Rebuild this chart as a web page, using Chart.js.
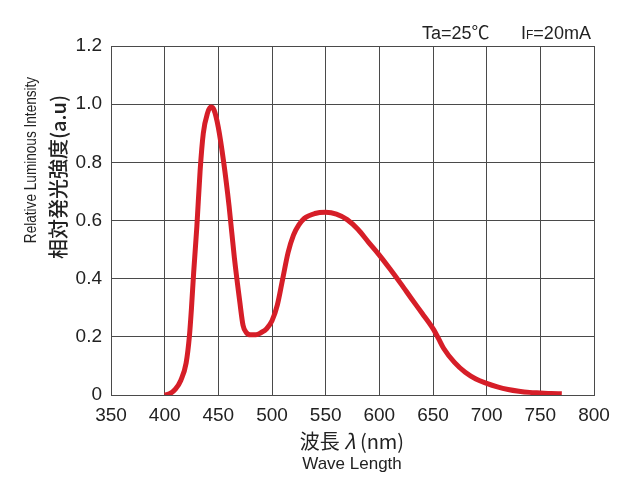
<!DOCTYPE html>
<html>
<head>
<meta charset="utf-8">
<script src="https://cdn.jsdelivr.net/npm/chart.js@4"></script>
<style>
  html, body { margin: 0; padding: 0; background: #fff; }
  #wrap { position: relative; width: 640px; height: 497px; }
  .lbl { position: absolute; color: #222; font-family: "Liberation Sans", Arial, "Noto Sans CJK JP", sans-serif; white-space: nowrap; transform: translate(-50%, -50%); }
  .cond { top: 23px; font-size: 18px; line-height: 20px; height: 20px; transform: none; }
  .cond small { font-size: 12px; }
  #cond1 { left: 422px; }
  #cond2 { left: 521px; }
  #yen { left: 31px; top: 160px; transform: translate(-50%, -50%) rotate(-90deg) scaleX(0.85); font-size: 16px; }
  #yja { left: 57px; top: 177px; transform: translate(-50%, -50%) rotate(-90deg); font-size: 20px; font-family: "Noto Sans CJK JP", sans-serif; font-weight: 500; }
  #xtitle1 { left: 352px; top: 440px; font-size: 20px; font-family: "Noto Sans CJK JP", sans-serif; }
  #xtitle2 { left: 352px; top: 464px; font-size: 17px; }
</style>
</head>
<body>
<div id="wrap">
  <canvas id="myChart" width="640" height="497"></canvas>
  <div class="lbl cond" id="cond1">Ta=25℃</div>
  <div class="lbl cond" id="cond2">I<small>F</small>=20mA</div>
  <div class="lbl" id="yen">Relative Luminous Intensity</div>
  <div class="lbl" id="yja">相対発光強度(a.u)</div>
  <div class="lbl" id="xtitle1">波長 <i>λ</i> (nm)</div>
  <div class="lbl" id="xtitle2">Wave Length</div>
</div>
<script>
const wavelength = [400, 405, 410, 415, 420, 423, 425, 427, 430, 433, 436, 440, 443, 446, 450, 455, 460, 465, 470, 473, 476, 480, 485, 490, 495, 500, 505, 510, 515, 520, 525, 530, 540, 550, 560, 570, 580, 590, 600, 610, 620, 630, 640, 650, 655, 660, 670, 680, 690, 700, 710, 720, 730, 740, 750, 760, 770];
const intensity = [0, 0.005, 0.02, 0.05, 0.11, 0.2, 0.3, 0.42, 0.58, 0.77, 0.9, 0.97, 0.99, 0.98, 0.92, 0.8, 0.65, 0.47, 0.32, 0.24, 0.215, 0.207, 0.207, 0.215, 0.228, 0.255, 0.31, 0.4, 0.49, 0.55, 0.585, 0.607, 0.624, 0.628, 0.622, 0.603, 0.57, 0.525, 0.481, 0.433, 0.383, 0.331, 0.28, 0.228, 0.195, 0.16, 0.112, 0.078, 0.055, 0.04, 0.028, 0.019, 0.013, 0.009, 0.007, 0.005, 0.004];

const xMin = 350, xMax = 800, xStep = 50;
const yMin = 0, yMax = 1.2, yStep = 0.2;

const points = wavelength.map((w, i) => ({ x: w, y: intensity[i] }));

const tickFont = { family: '"Liberation Sans", Arial, sans-serif', size: 19 };

const config = {
  type: 'line',
  data: {
    datasets: [{
      label: 'Spectrum',
      data: points,
      borderColor: 'rgb(214, 30, 40)',
      borderWidth: 5,
      pointRadius: 0,
      fill: false,
      cubicInterpolationMode: 'monotone'
    }]
  },
  options: {
    responsive: false,
    animation: false,
    layout: { padding: { top: 46, right: 46, left: 0, bottom: 0 } },
    plugins: { legend: { display: false }, tooltip: { enabled: false } },
    scales: {
      x: {
        type: 'linear',
        min: xMin, max: xMax,
        ticks: { stepSize: xStep, color: '#222', font: tickFont, padding: 9, maxRotation: 0 },
        grid: { color: '#4a4a4a', lineWidth: 1, drawTicks: false },
        border: { color: '#4a4a4a', width: 1 },
        afterFit: s => { s.height = 102; }
      },
      y: {
        min: yMin, max: yMax,
        ticks: {
          stepSize: yStep, color: '#222', font: tickFont, padding: 9,
          callback: v => (Math.abs(v) < 1e-9 ? '0' : v.toFixed(1))
        },
        grid: { color: '#4a4a4a', lineWidth: 1, drawTicks: false },
        border: { color: '#4a4a4a', width: 1 },
        afterFit: s => { s.width = 111; }
      }
    }
  }
};

const myChart = new Chart(document.getElementById('myChart'), config);
</script>
</body>
</html>
